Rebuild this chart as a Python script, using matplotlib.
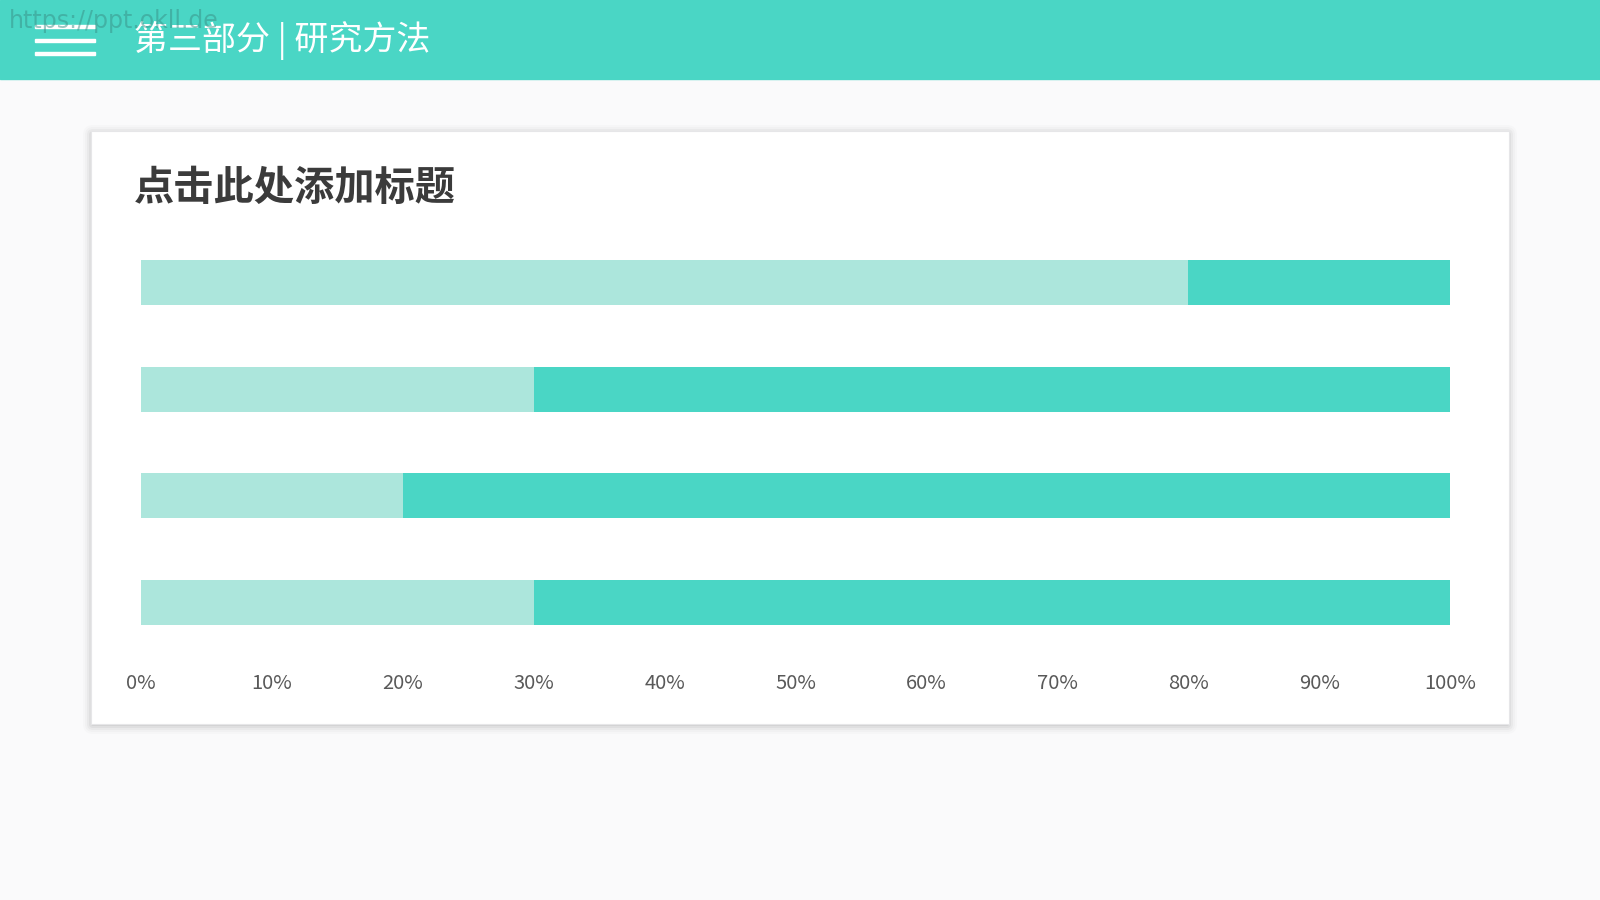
import matplotlib
matplotlib.use("Agg")
import matplotlib.pyplot as plt
from matplotlib.patches import Rectangle, FancyBboxPatch
from matplotlib.ticker import FuncFormatter

plt.rcParams['font.family'] = ['Noto Sans CJK SC', 'DejaVu Sans']

# data
rows = ["A", "B", "C", "D"]
part_light = [80, 30, 20, 30]
part_dark = [20, 70, 80, 70]
xticks = [0, 10, 20, 30, 40, 50, 60, 70, 80, 90, 100]

header_text = "第三部分 | 研究方法"
title_text = "点击此处添加标题"
watermark = "https://ppt.okll.de"

TEAL = "#4AD6C5"
LIGHT = "#ACE6DC"

fig = plt.figure(figsize=(16, 9), dpi=100)
fig.patch.set_facecolor("#FAFAFB")

# page background axes, pixel coordinates
bg = fig.add_axes([0, 0, 1, 1])
bg.set_xlim(0, 1600)
bg.set_ylim(900, 0)
bg.axis("off")

# header band
bg.add_patch(Rectangle((0, 0), 1600, 79, color=TEAL, zorder=1))
for y in (26, 40, 53):
    bg.add_patch(Rectangle((35, y - 1.5), 60, 3.2, color="white", zorder=2))
bg.text(134, 40, header_text, color="white", fontsize=24.5, fontweight="light",
        va="center", ha="left", zorder=3)
bg.text(9, 21, watermark, color="#3a8f86", alpha=0.5, fontsize=17,
        va="center", ha="left", zorder=4, family="DejaVu Sans")

# card with soft shadow
for i, a in enumerate([0.05, 0.04, 0.03, 0.02, 0.015]):
    d = 2 + i * 2
    bg.add_patch(FancyBboxPatch((91 - d + 2, 131 - d + 4), 1418 + 2 * d - 4, 593 + 2 * d - 4,
                                boxstyle="round,pad=0,rounding_size=%d" % d,
                                facecolor="black", edgecolor="none", alpha=a, zorder=4))
bg.add_patch(Rectangle((91, 131), 1418, 593, facecolor="white", edgecolor="#e6e6e8",
                       linewidth=0.8, zorder=5))
bg.text(134, 188, title_text, color="#3b3b3b", fontsize=29, fontweight="bold",
        va="center", ha="left", zorder=6)

# bar chart
left, right = 141, 1450
top, bottom = 229, 656
ax = fig.add_axes([left / 1600, 1 - bottom / 900, (right - left) / 1600, (bottom - top) / 900])
ax.patch.set_alpha(0)
ypos = list(range(len(rows)))
ax.barh(ypos, part_light, height=0.42, color=LIGHT, zorder=3)
ax.barh(ypos, part_dark, left=part_light, height=0.42, color=TEAL, zorder=3)
ax.set_xlim(0, 100)
ax.set_ylim(len(rows) - 0.5, -0.5)
ax.set_yticks([])
ax.set_xticks(xticks)
ax.xaxis.set_major_formatter(FuncFormatter(lambda v, p: "%d%%" % v))
ax.tick_params(axis="x", length=0, pad=12, labelsize=14.5, labelcolor="#595959")
for s in ax.spines.values():
    s.set_visible(False)

fig.savefig("out.png", dpi=100, facecolor=fig.get_facecolor())
